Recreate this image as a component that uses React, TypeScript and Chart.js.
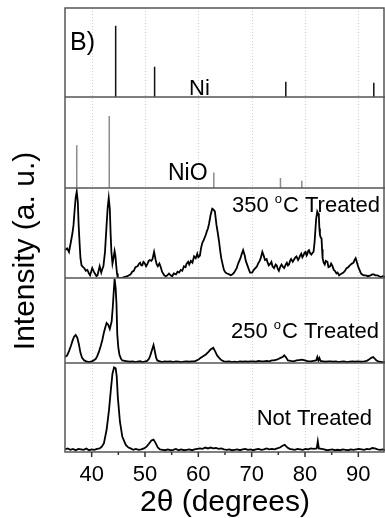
import React, { useEffect, useRef } from 'react';
import { Chart, registerables } from 'chart.js';

Chart.register(...registerables);

const FONT = 'Arial, "Liberation Sans", sans-serif';

// x axis (2θ, degrees)
const xMin = 35;
const xMax = 95;
const xMajorTicks = [40, 50, 60, 70, 80, 90];
const xMinorTicks = [45, 55, 65, 75, 85];

// reference stick patterns
const niPositions = [44.5, 51.8, 76.4, 92.9];
const niHeights = [0.8, 0.34, 0.17, 0.16];
const nioPositions = [37.2, 43.3, 62.9, 75.4, 79.4];
const nioHeights = [0.47, 0.79, 0.17, 0.11, 0.08];

// measured patterns [2θ, relative intensity]
const treated350: [number, number][] = [
  [35.0, 0.31], [35.4, 0.33], [35.75, 0.29], [36.1, 0.4], [36.4, 0.5], [36.6, 0.59], [36.8, 0.75], [37.0, 0.89],
  [37.2, 0.96], [37.4, 0.85], [37.55, 0.6], [37.75, 0.37], [37.9, 0.22], [38.1, 0.14], [38.4, 0.12], [38.6, 0.11],
  [38.9, 0.08], [39.2, 0.09], [39.5, 0.05], [39.7, 0.03], [39.9, 0.07], [40.1, 0.11], [40.4, 0.07], [40.6, 0.05],
  [40.9, 0.02], [41.1, 0.03], [41.3, 0.08], [41.5, 0.13], [41.8, 0.06], [42.0, 0.1], [42.2, 0.13], [42.5, 0.29],
  [42.8, 0.59], [43.0, 0.78], [43.2, 0.89], [43.4, 0.77], [43.55, 0.5], [43.7, 0.29], [43.9, 0.16], [44.1, 0.22],
  [44.3, 0.3], [44.45, 0.25], [44.6, 0.14], [44.75, 0.05], [44.9, 0.0], [45.5, 0.0], [46.1, 0.01], [46.7, 0.02],
  [47.3, 0.04], [47.6, 0.07], [47.9, 0.08], [48.2, 0.12], [48.6, 0.13], [48.9, 0.16], [49.1, 0.17], [49.3, 0.14],
  [49.5, 0.14], [49.7, 0.18], [49.9, 0.17], [50.2, 0.13], [50.4, 0.15], [50.7, 0.19], [50.9, 0.2], [51.2, 0.19],
  [51.4, 0.21], [51.7, 0.29], [52.0, 0.2], [52.2, 0.15], [52.4, 0.13], [52.7, 0.16], [52.9, 0.13], [53.2, 0.07],
  [53.6, 0.03], [53.9, 0.02], [54.2, 0.03], [54.5, 0.05], [54.8, 0.03], [55.1, 0.02], [55.4, 0.05], [55.8, 0.04],
  [56.1, 0.07], [56.4, 0.06], [56.7, 0.09], [57.0, 0.08], [57.3, 0.13], [57.6, 0.12], [57.8, 0.16], [58.1, 0.18],
  [58.3, 0.15], [58.6, 0.19], [58.9, 0.17], [59.2, 0.24], [59.5, 0.22], [59.8, 0.27], [60.0, 0.23], [60.3, 0.25],
  [60.5, 0.33], [60.75, 0.39], [61.0, 0.42], [61.2, 0.45], [61.4, 0.48], [61.6, 0.52], [61.8, 0.55], [62.0, 0.6],
  [62.3, 0.7], [62.6, 0.77], [62.85, 0.76], [63.1, 0.74], [63.4, 0.59], [63.65, 0.5], [63.9, 0.4], [64.1, 0.3],
  [64.3, 0.22], [64.6, 0.14], [64.8, 0.09], [65.1, 0.06], [65.4, 0.05], [65.8, 0.04], [66.1, 0.03], [66.4, 0.04],
  [66.7, 0.06], [67.0, 0.09], [67.2, 0.11], [67.4, 0.15], [67.6, 0.18], [67.9, 0.22], [68.1, 0.26], [68.4, 0.31],
  [68.7, 0.25], [68.9, 0.19], [69.2, 0.14], [69.5, 0.09], [69.7, 0.06], [70.1, 0.06], [70.4, 0.09], [70.7, 0.11],
  [71.0, 0.13], [71.2, 0.16], [71.5, 0.19], [71.7, 0.22], [72.0, 0.29], [72.3, 0.24], [72.5, 0.2], [72.8, 0.21],
  [73.0, 0.17], [73.2, 0.14], [73.5, 0.16], [73.7, 0.18], [73.9, 0.13], [74.2, 0.11], [74.5, 0.15], [74.7, 0.14],
  [74.9, 0.1], [75.1, 0.08], [75.4, 0.13], [75.6, 0.15], [75.9, 0.12], [76.1, 0.11], [76.4, 0.15], [76.6, 0.17],
  [76.8, 0.14], [77.0, 0.15], [77.2, 0.19], [77.4, 0.21], [77.7, 0.18], [77.9, 0.2], [78.2, 0.23], [78.4, 0.24],
  [78.7, 0.2], [78.9, 0.22], [79.1, 0.25], [79.3, 0.27], [79.5, 0.23], [79.7, 0.25], [79.9, 0.28], [80.1, 0.29],
  [80.3, 0.25], [80.4, 0.26], [80.6, 0.3], [80.75, 0.31], [81.0, 0.27], [81.2, 0.26], [81.4, 0.28], [81.6, 0.29],
  [81.8, 0.4], [82.0, 0.58], [82.1, 0.66], [82.3, 0.74], [82.45, 0.72], [82.6, 0.68], [82.7, 0.55], [82.8, 0.48],
  [82.95, 0.45], [83.1, 0.44], [83.2, 0.32], [83.3, 0.22], [83.5, 0.17], [83.7, 0.15], [83.9, 0.19], [84.2, 0.18],
  [84.4, 0.12], [84.7, 0.13], [84.9, 0.16], [85.1, 0.14], [85.4, 0.09], [85.6, 0.08], [85.9, 0.05], [86.1, 0.06],
  [86.4, 0.03], [86.6, 0.04], [86.9, 0.05], [87.2, 0.06], [87.5, 0.08], [87.8, 0.11], [88.1, 0.12], [88.4, 0.14],
  [88.8, 0.16], [89.1, 0.17], [89.3, 0.2], [89.5, 0.22], [89.8, 0.16], [90.0, 0.12], [90.3, 0.08], [90.5, 0.05],
  [90.7, 0.04], [91.0, 0.03], [91.4, 0.03], [91.8, 0.02], [92.3, 0.03], [92.6, 0.04], [92.9, 0.04], [93.2, 0.03],
  [93.6, 0.03], [93.9, 0.02], [94.2, 0.01], [94.6, 0.02], [95.0, 0.01],
];

const treated250: [number, number][] = [
  [35.0, 0.07], [35.4, 0.09], [35.75, 0.14], [36.1, 0.2], [36.4, 0.26], [36.7, 0.31], [37.0, 0.33], [37.3, 0.3],
  [37.6, 0.22], [37.9, 0.12], [38.2, 0.06], [38.6, 0.03], [39.0, 0.02], [39.5, 0.01], [40.0, 0.02], [40.4, 0.03],
  [40.8, 0.05], [41.1, 0.09], [41.4, 0.14], [41.7, 0.2], [42.0, 0.27], [42.3, 0.36], [42.6, 0.43], [42.8, 0.47],
  [43.1, 0.45], [43.4, 0.4], [43.75, 0.49], [43.95, 0.65], [44.1, 0.8], [44.3, 0.99], [44.5, 0.88], [44.65, 0.7],
  [44.8, 0.34], [45.0, 0.18], [45.2, 0.1], [45.5, 0.05], [45.75, 0.03], [46.2, 0.025], [46.7, 0.02], [47.2, 0.015],
  [47.7, 0.02], [48.2, 0.01], [48.6, 0.015], [49.1, 0.02], [49.5, 0.01], [49.9, 0.015], [50.4, 0.025], [50.75, 0.05],
  [51.0, 0.09], [51.25, 0.14], [51.6, 0.21], [51.9, 0.12], [52.1, 0.06], [52.3, 0.03], [52.8, 0.02], [53.2, 0.01],
  [53.7, 0.02], [54.2, 0.015], [54.8, 0.02], [55.3, 0.01], [55.8, 0.02], [56.3, 0.015], [56.8, 0.01], [57.3, 0.015],
  [57.8, 0.02], [58.3, 0.015], [58.8, 0.02], [59.3, 0.02], [59.7, 0.03], [60.1, 0.045], [60.4, 0.06], [60.9, 0.08],
  [61.4, 0.1], [61.9, 0.13], [62.3, 0.16], [62.8, 0.18], [63.2, 0.13], [63.5, 0.09], [63.9, 0.06], [64.3, 0.035],
  [64.8, 0.02], [65.3, 0.015], [65.8, 0.02], [66.3, 0.01], [66.8, 0.015], [67.3, 0.01], [67.8, 0.02], [68.3, 0.015],
  [68.8, 0.02], [69.3, 0.015], [69.8, 0.02], [70.3, 0.02], [70.8, 0.015], [71.3, 0.025], [71.8, 0.02], [72.3, 0.02],
  [72.8, 0.025], [73.3, 0.02], [73.8, 0.03], [74.2, 0.03], [74.7, 0.04], [75.1, 0.05], [75.4, 0.06], [75.8, 0.07],
  [76.1, 0.09], [76.4, 0.07], [76.8, 0.03], [77.3, 0.025], [77.9, 0.02], [78.4, 0.03], [78.9, 0.035], [79.4, 0.04],
  [79.8, 0.035], [80.3, 0.025], [80.7, 0.02], [81.1, 0.02], [81.6, 0.025], [82.1, 0.03], [82.3, 0.07], [82.5, 0.03],
  [82.7, 0.06], [82.9, 0.025], [83.4, 0.02], [83.9, 0.015], [84.4, 0.02], [84.8, 0.02], [85.3, 0.015], [85.8, 0.02],
  [86.3, 0.01], [86.8, 0.015], [87.3, 0.02], [87.9, 0.01], [88.4, 0.015], [88.9, 0.02], [89.4, 0.015], [89.9, 0.02],
  [90.5, 0.015], [91.1, 0.02], [91.6, 0.025], [92.0, 0.04], [92.4, 0.06], [92.8, 0.07], [93.1, 0.05], [93.4, 0.03],
  [93.9, 0.015], [94.5, 0.01], [95.0, 0.01],
];

const notTreated: [number, number][] = [
  [35.0, 0.03], [35.5, 0.04], [36.0, 0.025], [36.5, 0.035], [37.0, 0.02], [37.5, 0.035], [38.0, 0.03], [38.5, 0.025],
  [39.0, 0.04], [39.5, 0.02], [40.0, 0.03], [40.5, 0.025], [41.0, 0.035], [41.5, 0.04], [41.9, 0.06], [42.3, 0.1],
  [42.8, 0.25], [43.25, 0.47], [43.6, 0.7], [43.9, 0.88], [44.2, 0.95], [44.5, 0.94], [44.7, 0.85], [44.9, 0.62],
  [45.3, 0.34], [45.75, 0.17], [46.4, 0.08], [46.9, 0.05], [47.3, 0.04], [47.8, 0.025], [48.3, 0.035], [48.8, 0.025],
  [49.3, 0.03], [49.8, 0.04], [50.3, 0.06], [50.7, 0.09], [51.2, 0.13], [51.6, 0.14], [52.0, 0.1], [52.4, 0.05],
  [52.8, 0.03], [53.3, 0.025], [53.8, 0.02], [54.3, 0.03], [54.8, 0.02], [55.3, 0.025], [55.8, 0.035], [56.3, 0.02],
  [56.8, 0.03], [57.3, 0.02], [57.8, 0.025], [58.3, 0.03], [58.8, 0.02], [59.3, 0.03], [59.8, 0.035], [60.3, 0.04],
  [60.8, 0.035], [61.3, 0.05], [61.8, 0.04], [62.3, 0.05], [62.8, 0.04], [63.3, 0.045], [63.8, 0.035], [64.3, 0.04],
  [64.8, 0.03], [65.3, 0.025], [65.8, 0.03], [66.3, 0.02], [66.8, 0.025], [67.3, 0.03], [67.8, 0.02], [68.3, 0.03],
  [68.8, 0.035], [69.3, 0.025], [69.8, 0.03], [70.3, 0.02], [70.8, 0.03], [71.3, 0.035], [71.8, 0.025], [72.3, 0.03],
  [72.8, 0.04], [73.3, 0.03], [73.8, 0.035], [74.3, 0.03], [74.8, 0.04], [75.3, 0.05], [75.8, 0.07], [76.2, 0.08],
  [76.7, 0.05], [77.1, 0.035], [77.6, 0.03], [78.1, 0.025], [78.6, 0.035], [79.1, 0.03], [79.6, 0.025], [80.1, 0.035],
  [80.6, 0.03], [81.1, 0.04], [81.6, 0.035], [82.2, 0.04], [82.4, 0.12], [82.6, 0.04], [83.1, 0.035], [83.6, 0.03],
  [84.1, 0.02], [84.6, 0.025], [85.1, 0.03], [85.6, 0.02], [86.1, 0.025], [86.6, 0.02], [87.1, 0.03], [87.6, 0.025],
  [88.1, 0.02], [88.6, 0.03], [89.1, 0.025], [89.6, 0.03], [90.1, 0.035], [90.6, 0.03], [91.1, 0.025], [91.6, 0.035],
  [92.1, 0.03], [92.6, 0.045], [93.1, 0.04], [93.6, 0.03], [94.1, 0.025], [94.6, 0.03], [95.0, 0.02],
];

const xTitle = '2\u03b8 (degrees)';
const yTitle = 'Intensity (a. u.)';
const panelTag = 'B)';
const niLabel = 'Ni';
const nioLabel = 'NiO';
const label350 = ['350 ', 'o', 'C Treated'];
const label250 = ['250 ', 'o', 'C Treated'];
const labelNot = 'Not Treated';

function sticks(pos: number[], h: number[]) {
  const out: { x: number; y: number | null }[] = [];
  pos.forEach((p, i) => {
    out.push({ x: p, y: 0 }, { x: p, y: h[i] }, { x: p, y: null });
  });
  return out;
}

function pts(arr: [number, number][]) {
  return arr.map(([x, y]) => ({ x, y }));
}

function drawDegreeLabel(ctx: CanvasRenderingContext2D, parts: string[], right: number, baseline: number, size: number) {
  ctx.font = `${size}px ${FONT}`;
  const w1 = ctx.measureText(parts[0]).width;
  const w3 = ctx.measureText(parts[2]).width;
  const supSize = Math.round(size * 0.6);
  ctx.font = `${supSize}px ${FONT}`;
  const w2 = ctx.measureText(parts[1]).width + 1;
  const start = right - (w1 + w2 + w3);
  ctx.font = `${size}px ${FONT}`;
  ctx.fillText(parts[0], start, baseline);
  ctx.font = `${supSize}px ${FONT}`;
  ctx.fillText(parts[1], start + w1, baseline - size * 0.42);
  ctx.font = `${size}px ${FONT}`;
  ctx.fillText(parts[2], start + w1 + w2, baseline);
}

const decorPlugin = {
  id: 'decor',
  beforeDatasetsDraw(chart: any) {
    const { ctx, chartArea: a, scales } = chart;
    const x = scales.x;
    ctx.save();
    ctx.strokeStyle = '#cfcfcf';
    ctx.lineWidth = 1;
    ctx.setLineDash([1, 2]);
    xMajorTicks.forEach((v) => {
      const px = Math.round(x.getPixelForValue(v)) + 0.5;
      ctx.beginPath();
      ctx.moveTo(px, a.top);
      ctx.lineTo(px, a.bottom);
      ctx.stroke();
    });
    ctx.restore();
  },
  afterDatasetsDraw(chart: any) {
    const { ctx, chartArea: a, scales } = chart;
    const x = scales.x;
    ctx.save();
    // frame and separators
    ctx.strokeStyle = '#555';
    ctx.lineWidth = 1.5;
    ctx.strokeRect(a.left, a.top, a.right - a.left - 1, a.bottom - a.top);
    ['yNi', 'yNiO', 'y350', 'y250'].forEach((id) => {
      const yb = scales[id].bottom;
      ctx.beginPath();
      ctx.moveTo(a.left, yb);
      ctx.lineTo(a.right, yb);
      ctx.stroke();
    });
    // x ticks
    ctx.strokeStyle = '#333';
    ctx.lineWidth = 1.5;
    xMajorTicks.forEach((v) => {
      const px = x.getPixelForValue(v);
      ctx.beginPath();
      ctx.moveTo(px, a.bottom);
      ctx.lineTo(px, a.bottom + 5);
      ctx.stroke();
    });
    xMinorTicks.forEach((v) => {
      const px = x.getPixelForValue(v);
      ctx.beginPath();
      ctx.moveTo(px, a.bottom);
      ctx.lineTo(px, a.bottom + 3);
      ctx.stroke();
    });
    // texts
    ctx.fillStyle = '#000';
    ctx.textBaseline = 'alphabetic';
    ctx.textAlign = 'left';
    ctx.font = `25px ${FONT}`;
    ctx.fillText(panelTag, a.left + 5, scales.yNi.top + 42);
    ctx.font = `22px ${FONT}`;
    ctx.fillText(niLabel, a.left + 124, scales.yNi.bottom - 2);
    ctx.font = `23px ${FONT}`;
    ctx.fillText(nioLabel, a.left + 103, scales.yNiO.bottom - 8);
    drawDegreeLabel(ctx, label350, a.right - 5, scales.y350.top + 24, 22);
    drawDegreeLabel(ctx, label250, a.right - 6, scales.y250.top + 60, 22);
    ctx.font = `22px ${FONT}`;
    ctx.textAlign = 'right';
    ctx.fillText(labelNot, a.right - 13, scales.yNot.top + 62);
    // axis titles
    ctx.textAlign = 'center';
    ctx.font = `30px ${FONT}`;
    ctx.fillText(xTitle, (a.left + a.right) / 2, 511);
    ctx.save();
    ctx.translate(34, 251);
    ctx.rotate(-Math.PI / 2);
    ctx.font = `30px ${FONT}`;
    ctx.fillText(yTitle, 0, 0);
    ctx.restore();
    ctx.restore();
  },
};

const yPanel = (w: number) => ({
  type: 'linear' as const,
  display: false,
  min: 0,
  max: 1,
  stack: 'panels',
  stackWeight: w,
  position: 'left' as const,
});

export default function App() {
  const ref = useRef<HTMLCanvasElement>(null);
  useEffect(() => {
    if (!ref.current) return;
    const line = { borderColor: '#000', borderWidth: 1.8, pointRadius: 0, tension: 0, fill: false };
    const chart = new Chart(ref.current, {
      type: 'line',
      data: {
        datasets: [
          { ...line, label: 'Ni', data: sticks(niPositions, niHeights), yAxisID: 'yNi', borderColor: '#111', borderWidth: 1.5 },
          { ...line, label: 'NiO', data: sticks(nioPositions, nioHeights), yAxisID: 'yNiO', borderColor: '#8c8c8c', borderWidth: 1.5 },
          { ...line, label: '350', data: pts(treated350), yAxisID: 'y350' },
          { ...line, label: '250', data: pts(treated250), yAxisID: 'y250' },
          { ...line, label: 'Not', data: pts(notTreated), yAxisID: 'yNot' },
        ] as any,
      },
      options: {
        responsive: false,
        animation: false,
        devicePixelRatio: 1,
        layout: { padding: { left: 65, top: 8, right: 0, bottom: 0 } },
        plugins: { legend: { display: false }, tooltip: { enabled: false } },
        scales: {
          x: {
            type: 'linear',
            min: xMin,
            max: xMax,
            afterBuildTicks: (s: any) => {
              s.ticks = xMajorTicks.map((v) => ({ value: v }));
            },
            afterFit: (s: any) => {
              s.height = 66;
            },
            grid: { display: false, drawTicks: false },
            border: { display: false },
            ticks: {
              autoSkip: false,
              maxRotation: 0,
              padding: 10,
              color: '#000',
              font: { size: 22, family: FONT },
            },
          },
          yNot: yPanel(89),
          y250: yPanel(85),
          y350: yPanel(90),
          yNiO: yPanel(91),
          yNi: yPanel(89),
        } as any,
      },
      plugins: [decorPlugin],
    });
    return () => chart.destroy();
  }, []);
  return (
    <div style={{ position: 'absolute', left: 0, top: 0, width: 385, height: 518, background: '#fff' }}>
      <canvas ref={ref} width={385} height={518} style={{ display: 'block', width: 385, height: 518 }} />
    </div>
  );
}
